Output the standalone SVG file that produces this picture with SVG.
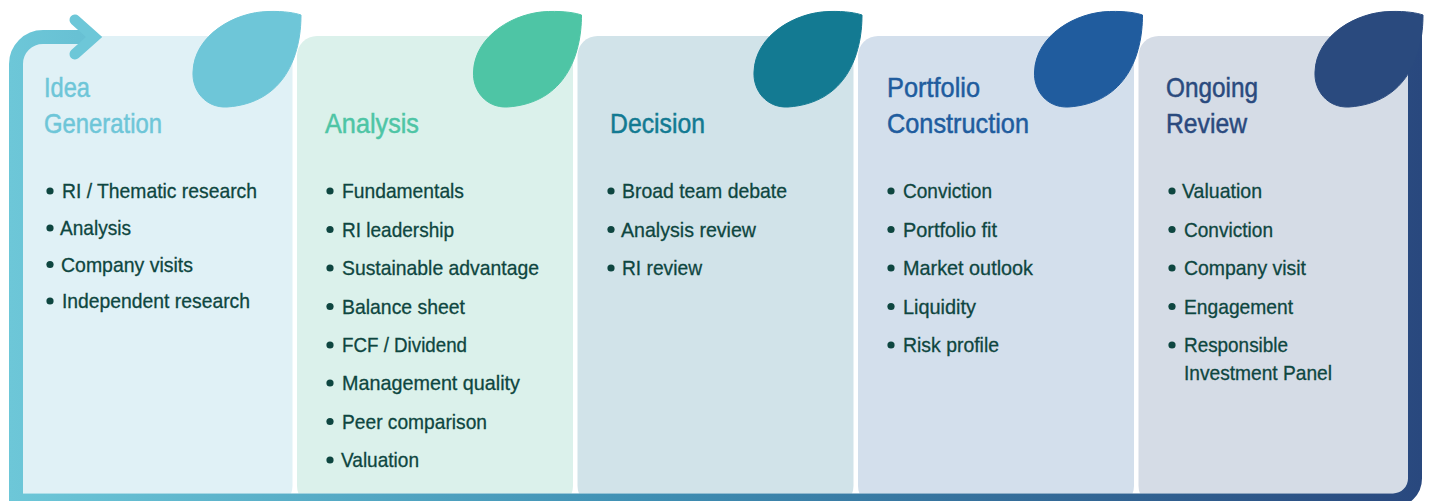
<svg xmlns="http://www.w3.org/2000/svg" xmlns:xlink="http://www.w3.org/1999/xlink" width="1430" height="501" viewBox="0 0 1430 501">
<style>
text{font-family:"Liberation Sans Narrow","Liberation Sans",Arial,sans-serif}
.ttl{font-size:28px;stroke-width:0.5px}
.b{font-size:21px;fill:#0E4640;stroke:#0E4640;stroke-width:0.3px}
.dot{fill:#0E4640}
.c1{fill:#6EC6D8;stroke:#6EC6D8}.c2{fill:#4EC5A5;stroke:#4EC5A5}.c3{fill:#137A92;stroke:#137A92}.c4{fill:#205C9E;stroke:#205C9E}.c5{fill:#2A4A7E;stroke:#2A4A7E}
use{stroke:none}
</style>
<defs>
<linearGradient id="fg" gradientUnits="userSpaceOnUse" x1="9" y1="0" x2="1422" y2="0">
<stop offset="0" stop-color="#6DC7D8"/>
<stop offset="0.45" stop-color="#3F8FB3"/>
<stop offset="1" stop-color="#29487E"/>
</linearGradient>
<path id="leaf" d="M301,15 C301,55 285,103 227,107 C205,108 192,90 193,72 C194,35 235,12 268,11.5 C285,11 295,13 301,15 Z"/>
</defs>
<rect width="1430" height="501" fill="#FFFFFF"/>

<g id="panels">
<rect x="16.5" y="36" width="276" height="470" rx="20" fill="#E0F1F6"/>
<rect x="297" y="36" width="276" height="470" rx="20" fill="#DBF1EB"/>
<rect x="577.5" y="36" width="276" height="470" rx="20" fill="#D1E3E9"/>
<rect x="858" y="36" width="276" height="470" rx="20" fill="#D3DFEC"/>
<rect x="1138.5" y="36" width="276" height="470" rx="20" fill="#D5DCE6"/>
</g>
<rect x="0" y="493.5" width="1430" height="8" fill="#FFFFFF"/>

<g id="connectors">
<path d="M90,37 H43 A27,27 0 0 0 16,64 V500.5 H1393 A22,22 0 0 0 1415,478.5 V30" fill="none" stroke="url(#fg)" stroke-width="14" stroke-linejoin="miter"/>
<polyline points="75,20 94,37 75,54" fill="none" stroke="#6DC7D8" stroke-width="11" stroke-linecap="round" stroke-linejoin="miter"/>
</g>

<g id="node-idea">
<use xlink:href="#leaf" class="c1"/>
<text class="ttl c1" x="44" y="97" textLength="46" lengthAdjust="spacingAndGlyphs">Idea</text>
<text class="ttl c1" x="44" y="133" textLength="118" lengthAdjust="spacingAndGlyphs">Generation</text>
<circle class="dot" cx="50" cy="191" r="3.6"/><text class="b" x="62" y="198" textLength="195" lengthAdjust="spacingAndGlyphs">RI / Thematic research</text>
<circle class="dot" cx="50" cy="228" r="3.6"/><text class="b" x="60" y="235" textLength="71" lengthAdjust="spacingAndGlyphs">Analysis</text>
<circle class="dot" cx="50" cy="264.5" r="3.6"/><text class="b" x="61" y="271.5" textLength="132" lengthAdjust="spacingAndGlyphs">Company visits</text>
<circle class="dot" cx="50" cy="301" r="3.6"/><text class="b" x="62" y="308" textLength="188" lengthAdjust="spacingAndGlyphs">Independent research</text>
</g>

<g id="node-analysis">
<use xlink:href="#leaf" class="c2" transform="translate(280.5,0)"/>
<text class="ttl c2" x="325" y="133" textLength="94" lengthAdjust="spacingAndGlyphs">Analysis</text>
<circle class="dot" cx="330" cy="191" r="3.6"/><text class="b" x="342" y="198" textLength="122" lengthAdjust="spacingAndGlyphs">Fundamentals</text>
<circle class="dot" cx="330" cy="229.5" r="3.6"/><text class="b" x="342" y="236.5" textLength="112" lengthAdjust="spacingAndGlyphs">RI leadership</text>
<circle class="dot" cx="330" cy="268" r="3.6"/><text class="b" x="342" y="275" textLength="197" lengthAdjust="spacingAndGlyphs">Sustainable advantage</text>
<circle class="dot" cx="330" cy="306.5" r="3.6"/><text class="b" x="342" y="313.5" textLength="123" lengthAdjust="spacingAndGlyphs">Balance sheet</text>
<circle class="dot" cx="330" cy="345" r="3.6"/><text class="b" x="342" y="352" textLength="125" lengthAdjust="spacingAndGlyphs">FCF / Dividend</text>
<circle class="dot" cx="330" cy="383" r="3.6"/><text class="b" x="342" y="390" textLength="178" lengthAdjust="spacingAndGlyphs">Management quality</text>
<circle class="dot" cx="330" cy="421.5" r="3.6"/><text class="b" x="342" y="428.5" textLength="145" lengthAdjust="spacingAndGlyphs">Peer comparison</text>
<circle class="dot" cx="330" cy="460" r="3.6"/><text class="b" x="341" y="467" textLength="78" lengthAdjust="spacingAndGlyphs">Valuation</text>
</g>

<g id="node-decision">
<use xlink:href="#leaf" class="c3" transform="translate(561,0)"/>
<text class="ttl c3" x="610" y="133" textLength="95" lengthAdjust="spacingAndGlyphs">Decision</text>
<circle class="dot" cx="611" cy="191" r="3.6"/><text class="b" x="622" y="198" textLength="165" lengthAdjust="spacingAndGlyphs">Broad team debate</text>
<circle class="dot" cx="611" cy="229.5" r="3.6"/><text class="b" x="621" y="236.5" textLength="135" lengthAdjust="spacingAndGlyphs">Analysis review</text>
<circle class="dot" cx="611" cy="268" r="3.6"/><text class="b" x="622" y="275" textLength="80" lengthAdjust="spacingAndGlyphs">RI review</text>
</g>

<g id="node-portfolio">
<use xlink:href="#leaf" class="c4" transform="translate(841.5,0)"/>
<text class="ttl c4" x="887" y="97" textLength="93" lengthAdjust="spacingAndGlyphs">Portfolio</text>
<text class="ttl c4" x="887" y="133" textLength="142" lengthAdjust="spacingAndGlyphs">Construction</text>
<circle class="dot" cx="891" cy="191" r="3.6"/><text class="b" x="903" y="198" textLength="89" lengthAdjust="spacingAndGlyphs">Conviction</text>
<circle class="dot" cx="891" cy="229.5" r="3.6"/><text class="b" x="903" y="236.5" textLength="94" lengthAdjust="spacingAndGlyphs">Portfolio fit</text>
<circle class="dot" cx="891" cy="268" r="3.6"/><text class="b" x="903" y="275" textLength="130" lengthAdjust="spacingAndGlyphs">Market outlook</text>
<circle class="dot" cx="891" cy="306.5" r="3.6"/><text class="b" x="903" y="313.5" textLength="73" lengthAdjust="spacingAndGlyphs">Liquidity</text>
<circle class="dot" cx="891" cy="345" r="3.6"/><text class="b" x="903" y="352" textLength="96" lengthAdjust="spacingAndGlyphs">Risk profile</text>
</g>

<g id="node-review">
<use xlink:href="#leaf" class="c5" transform="translate(1122,0)"/>
<text class="ttl c5" x="1166" y="97" textLength="92" lengthAdjust="spacingAndGlyphs">Ongoing</text>
<text class="ttl c5" x="1166" y="133" textLength="81" lengthAdjust="spacingAndGlyphs">Review</text>
<circle class="dot" cx="1172" cy="191" r="3.6"/><text class="b" x="1182" y="198" textLength="80" lengthAdjust="spacingAndGlyphs">Valuation</text>
<circle class="dot" cx="1172" cy="229.5" r="3.6"/><text class="b" x="1184" y="236.5" textLength="89" lengthAdjust="spacingAndGlyphs">Conviction</text>
<circle class="dot" cx="1172" cy="268" r="3.6"/><text class="b" x="1184" y="275" textLength="122" lengthAdjust="spacingAndGlyphs">Company visit</text>
<circle class="dot" cx="1172" cy="306.5" r="3.6"/><text class="b" x="1184" y="313.5" textLength="109" lengthAdjust="spacingAndGlyphs">Engagement</text>
<circle class="dot" cx="1172" cy="345" r="3.6"/><text class="b" x="1184" y="352" textLength="104" lengthAdjust="spacingAndGlyphs">Responsible</text>
<text class="b" x="1184" y="380" textLength="148" lengthAdjust="spacingAndGlyphs">Investment Panel</text>
</g>
</svg>
